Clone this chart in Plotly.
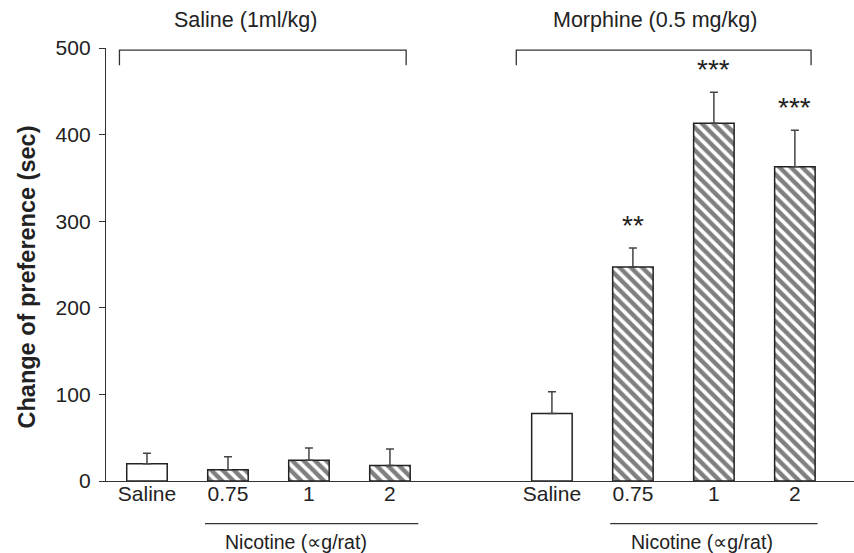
import plotly.graph_objects as go

# Conditioned place preference data (mean and SEM, seconds)
categories = ["Saline", "0.75", "1", "2"]
saline_mean = [20, 13, 24, 18]
saline_sem = [12, 15, 14, 19]
morphine_mean = [78, 247, 413, 363]
morphine_sem = [25, 22, 36, 42]
morphine_stars = ["", "**", "***", "***"]

group_titles = ["Saline (1ml/kg)", "Morphine (0.5 mg/kg)"]
nicotine_label = "Nicotine (\u221dg/rat)"
y_title = "Change of preference (sec)"
y_ticks = [0, 100, 200, 300, 400, 500]

FONT = "Liberation Sans, Arial, Helvetica, sans-serif"
TXT = "#222222"
LINE = "#333333"

# Category slots: first group at 0..3, second group at 5..8
saline_x = [0, 1, 2, 3]
morphine_x = [5, 6, 7, 8]
X_RANGE = [-0.506, 8.73]
Y_RANGE = [0, 500]


def px(xv):
    """Convert an x data position to paper coordinates."""
    return (xv - X_RANGE[0]) / (X_RANGE[1] - X_RANGE[0])


def py(yv):
    return (yv - Y_RANGE[0]) / (Y_RANGE[1] - Y_RANGE[0])


patterns = ["" if c == "Saline" else "\\" for c in categories]


def bar_trace(xs, means, sems):
    return go.Bar(
        x=xs,
        y=means,
        width=0.5,
        marker=dict(
            color="white",
            line=dict(color="#222222", width=1.5),
            pattern=dict(shape=patterns, fgcolor="black", bgcolor="white",
                         size=8, solidity=0.55, fillmode="overlay"),
        ),
        error_y=dict(type="data", array=sems, arrayminus=[0] * len(sems),
                     symmetric=False, color="#444444", thickness=1.5, width=4),
        showlegend=False,
        hoverinfo="skip",
    )


fig = go.Figure()
fig.add_trace(bar_trace(saline_x, saline_mean, saline_sem))
fig.add_trace(bar_trace(morphine_x, morphine_mean, morphine_sem))

annotations = []
# significance stars above the error bars
for xv, m, s, st in zip(morphine_x, morphine_mean, morphine_sem, morphine_stars):
    if st:
        annotations.append(dict(x=xv, y=m + s, xref="x", yref="y", text=st,
                                showarrow=False, yanchor="bottom", yshift=5,
                                font=dict(family=FONT, size=28, color=TXT)))

# group titles
for xv, t in zip([1.22, 6.27], group_titles):
    annotations.append(dict(x=px(xv), y=1, xref="paper", yref="paper", text=t,
                            showarrow=False, xanchor="center", yanchor="middle",
                            yshift=28, font=dict(family=FONT, size=21.5, color=TXT)))

# nicotine dose labels under each group
for xv in [1.84, 6.85]:
    annotations.append(dict(x=px(xv), y=py(-70), xref="paper", yref="paper",
                            text=nicotine_label, showarrow=False,
                            xanchor="center", yanchor="middle",
                            font=dict(family=FONT, size=19.5, color=TXT)))

# y-axis title
annotations.append(dict(x=-0.1056, y=0.47, xref="paper", yref="paper", text=y_title,
                        textangle=-90, showarrow=False, xanchor="center", yanchor="middle",
                        font=dict(family=FONT, size=23.5, color=TXT, weight="bold")))

shapes = []
# brackets spanning each treatment group
for x0, x1 in [(-0.34, 3.2), (4.56, 8.2)]:
    shapes.append(dict(type="path", xref="paper", yref="paper",
                       path=f"M {px(x0)} {py(480)} L {px(x0)} {py(497.5)} "
                            f"L {px(x1)} {py(497.5)} L {px(x1)} {py(480)}",
                       line=dict(color=LINE, width=1.3)))
# underline for the nicotine doses
for x0, x1 in [(0.716, 3.35), (5.72, 8.28)]:
    shapes.append(dict(type="line", xref="paper", yref="paper",
                       x0=px(x0), x1=px(x1), y0=py(-49.3), y1=py(-49.3),
                       line=dict(color=LINE, width=1.2)))

fig.update_layout(
    width=854, height=553,
    margin=dict(l=106, r=0, t=48, b=72),
    paper_bgcolor="white", plot_bgcolor="white",
    bargap=0.5,
    annotations=annotations,
    shapes=shapes,
    font=dict(family=FONT, color=TXT),
)
fig.update_xaxes(
    range=X_RANGE, tickmode="array",
    tickvals=saline_x + morphine_x, ticktext=categories + categories,
    showline=True, linecolor=LINE, linewidth=1.3, ticks="",
    showgrid=False, zeroline=False, ticklabelstandoff=-6,
    tickfont=dict(family=FONT, size=21, color=TXT),
)
fig.update_yaxes(
    range=Y_RANGE, tickmode="array", tickvals=y_ticks,
    showline=True, linecolor=LINE, linewidth=1.3,
    ticks="outside", ticklen=6, tickcolor=LINE, tickwidth=1.3,
    showgrid=False, zeroline=False, ticklabelstandoff=4,
    tickfont=dict(family=FONT, size=21, color=TXT),
)

fig.write_html("out.html")
